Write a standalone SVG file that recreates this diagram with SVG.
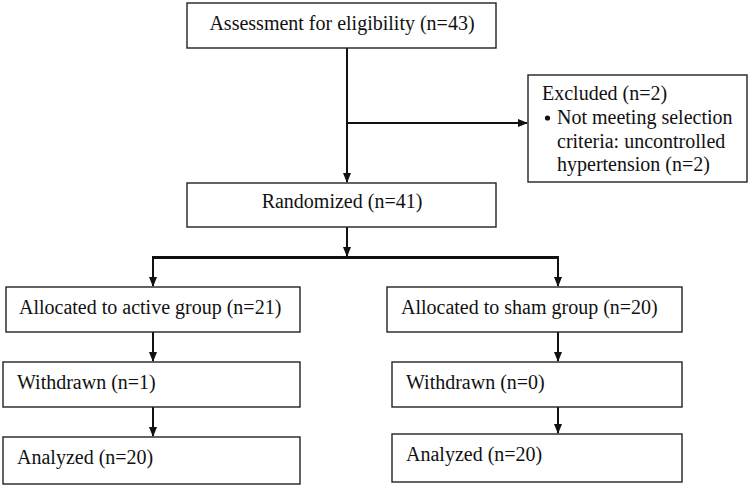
<svg xmlns="http://www.w3.org/2000/svg" width="750" height="488" viewBox="0 0 750 488">
<style>
.box{fill:#fff;stroke:#222;stroke-width:1.4}
.t{font-family:"Liberation Serif","Times New Roman",serif;font-size:20px;fill:#111}
.c{text-anchor:middle}
.ln{stroke:#111;stroke-width:2;fill:none}
</style>
<defs>
<marker id="ah" markerWidth="10" markerHeight="10" refX="9" refY="5" orient="auto" markerUnits="userSpaceOnUse">
<path d="M0,1 L10,5 L0,9 Z" fill="#111"/>
</marker>
</defs>
<rect width="750" height="488" fill="#fff"/>
<g id="connectors">
<line class="ln" x1="347" y1="48" x2="347" y2="182" marker-end="url(#ah)"/>
<line class="ln" x1="347" y1="123" x2="527" y2="123" marker-end="url(#ah)"/>
<line class="ln" x1="347" y1="227" x2="347" y2="256" marker-end="url(#ah)"/>
<line x1="152" y1="257.5" x2="559" y2="257.5" stroke="#111" stroke-width="3"/>
<line class="ln" x1="153" y1="256" x2="153" y2="286" marker-end="url(#ah)"/>
<line class="ln" x1="558" y1="256" x2="558" y2="286" marker-end="url(#ah)"/>
<line class="ln" x1="153" y1="332" x2="153" y2="361" marker-end="url(#ah)"/>
<line class="ln" x1="558" y1="332" x2="558" y2="361" marker-end="url(#ah)"/>
<line class="ln" x1="153" y1="407" x2="153" y2="436" marker-end="url(#ah)"/>
<line class="ln" x1="558" y1="407" x2="558" y2="433" marker-end="url(#ah)"/>
</g>
<g id="assessment">
<rect class="box" x="187" y="3" width="309" height="45"/>
<text class="t c" x="342" y="30">Assessment for eligibility (n=43)</text>
</g>
<g id="excluded">
<rect class="box" x="528" y="75" width="219" height="107"/>
<text class="t" x="542" y="100">Excluded (n=2)</text>
<circle cx="547.5" cy="118" r="2.6" fill="#111"/>
<text class="t" x="557" y="124">Not meeting selection</text>
<text class="t" x="557" y="148">criteria: uncontrolled</text>
<text class="t" x="557" y="171">hypertension (n=2)</text>
</g>
<g id="randomized">
<rect class="box" x="187" y="183" width="309" height="44"/>
<text class="t c" x="342" y="208">Randomized (n=41)</text>
</g>
<g id="active">
<rect class="box" x="6" y="287" width="294" height="45"/>
<text class="t" x="19" y="314">Allocated to active group (n=21)</text>
</g>
<g id="sham">
<rect class="box" x="387" y="287" width="295" height="45"/>
<text class="t" x="401" y="314">Allocated to sham group (n=20)</text>
</g>
<g id="withdrawn-active">
<rect class="box" x="3" y="362" width="297" height="45"/>
<text class="t" x="17" y="389">Withdrawn (n=1)</text>
</g>
<g id="withdrawn-sham">
<rect class="box" x="392" y="362" width="290" height="45"/>
<text class="t" x="406" y="389">Withdrawn (n=0)</text>
</g>
<g id="analyzed-active">
<rect class="box" x="3" y="437" width="297" height="47"/>
<text class="t" x="17" y="464">Analyzed (n=20)</text>
</g>
<g id="analyzed-sham">
<rect class="box" x="392" y="434" width="290" height="48"/>
<text class="t" x="406" y="461">Analyzed (n=20)</text>
</g>
</svg>
